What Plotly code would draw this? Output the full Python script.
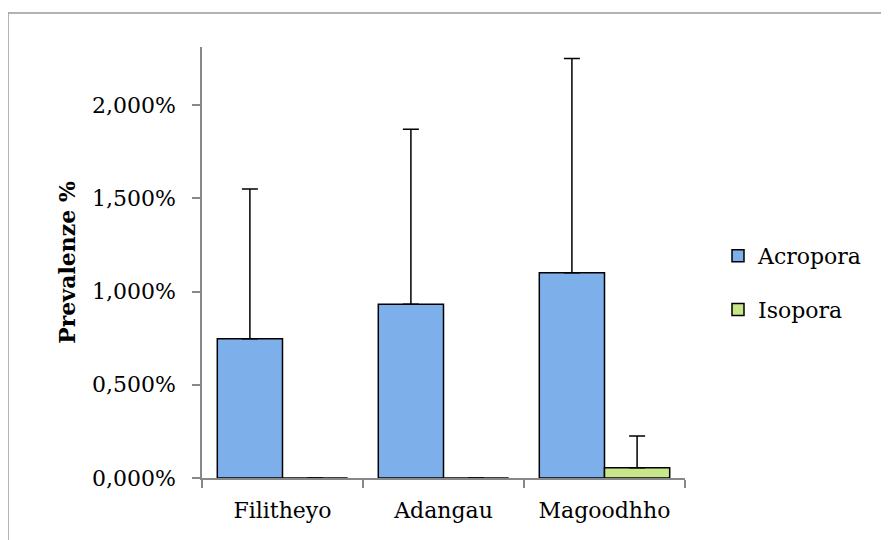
import plotly.graph_objects as go

# data (values in %)
sites = ["Filitheyo", "Adangau", "Magoodhho"]
acropora = [0.747, 0.932, 1.10]
acropora_err = [0.803, 0.938, 1.15]
isopora = [0.0, 0.0, 0.055]
isopora_err = [0.0, 0.0, 0.17]
tick_vals = [0, 0.5, 1.0, 1.5, 2.0]
tick_text = ["0,000%", "0,500%", "1,000%", "1,500%", "2,000%"]

FONT = "DejaVu Serif, serif"
INK = "#000000"
AXIS = "#888888"

# the page body adds an 8px offset; target plot area on screen x 202..685, y 47..478
OFF = 8
L, T = 202 - OFF, 47 - OFF
R, B = 889 - (685 - OFF), 540 - (478 - OFF)
PW, PH = 889 - L - R, 540 - T - B

fig = go.Figure()
fig.add_trace(go.Bar(
    x=sites, y=acropora, name="Acropora", legendgroup="a",
    marker=dict(color="#7DAFEA", line=dict(color="#000000", width=1.5)),
    error_y=dict(type="data", array=acropora_err, symmetric=False, arrayminus=[0, 0, 0],
                 color="#000000", thickness=1.5, width=8)))
fig.add_trace(go.Bar(
    x=sites, y=isopora, name="Isopora", legendgroup="b",
    marker=dict(color="#C8E68A", line=dict(color="#000000", width=1.5)),
    error_y=dict(type="data", array=isopora_err, symmetric=False, arrayminus=[0, 0, 0],
                 color="#000000", thickness=1.5, width=8)))

fig.update_yaxes(range=[0, 2.311], tickvals=tick_vals, ticktext=tick_text, automargin=False,
                 showgrid=False, zeroline=False, showline=True, linecolor=AXIS, linewidth=1.5,
                 ticks="outside", ticklen=8, tickcolor=AXIS, tickwidth=1.5,
                 ticklabelstandoff=12,
                 tickfont=dict(family=FONT, size=22, color=INK),
                 title=dict(text="<b>Prevalenze %</b>", standoff=10,
                            font=dict(family=FONT, size=22, color=INK)))
fig.update_xaxes(showline=True, linecolor=AXIS, linewidth=1.5, showgrid=False, automargin=False,
                 ticks="outside", tickson="boundaries", ticklen=8, tickcolor=AXIS, tickwidth=1.5,
                 ticklabelstandoff=12,
                 tickfont=dict(family=FONT, size=22, color=INK))

# outer chart frame (right and bottom edges fall outside the crop)
fig.add_shape(type="rect", xref="paper", yref="paper",
              x0=(8 - OFF - L) / PW, x1=2.0, y0=-0.5, y1=(478 - 13) / PH,
              line=dict(color="#9A9A9A", width=1.5), fillcolor="rgba(0,0,0,0)", layer="below")

fig.update_layout(
    width=889, height=540,
    barmode="group", bargap=0.19, bargroupgap=0,
    paper_bgcolor="white", plot_bgcolor="white",
    font=dict(family=FONT, color=INK),
    margin=dict(l=L, r=R, t=T, b=B, autoexpand=False),
    legend=dict(x=(718 - OFF - L) / PW, y=(478 - 283) / PH, xanchor="left", yanchor="middle",
                font=dict(family=FONT, size=22, color=INK),
                tracegroupgap=22, itemwidth=30),
)

fig.write_html("out.html")
